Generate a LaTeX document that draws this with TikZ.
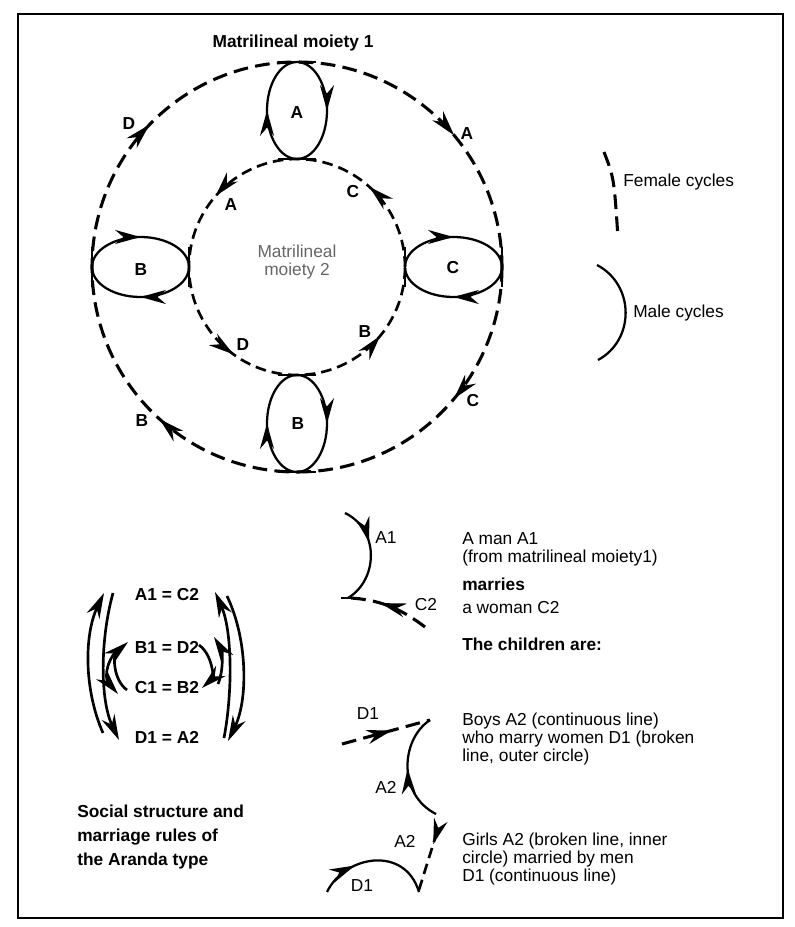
\documentclass[tikz,border=0pt]{standalone}
\usepackage{fontspec}
\setmainfont{Liberation Sans}
\usepackage{tikz}
\usetikzlibrary{arrows.meta, decorations.markings, positioning}

\begin{document}
\begin{tikzpicture}[x=0.75pt, y=-0.75pt,
    font=\fontsize{13}{13.6}\selectfont, text=black,
    >={Stealth[length=19pt, width=10.5pt]},
    outerdash/.style={line width=2.3pt, dash pattern=on 11pt off 5.5pt},
    innerdash/.style={line width=2pt, dash pattern=on 8pt off 4.5pt},
    malecycle/.style={line width=1.7pt},
    arrowat/.style={postaction={decorate, decoration={markings,
        mark=at position #1 with {\arrow{>}}}}},
    letter/.style={font=\fontsize{13}{13.6}\selectfont\bfseries, inner sep=1pt},
    note/.style={anchor=west, align=left, inner sep=0pt}]
    \useasboundingbox (0,0) rectangle (794,927);
    \draw[line width=1.5pt] (18,14) rectangle (783,918);

    % the two moieties
    \coordinate (cen) at (297,267);
    \draw[outerdash, arrowat=0.111, arrowat=0.367, arrowat=0.622, arrowat=0.889]
        (cen) ++(205,0) arc[start angle=0, end angle=360, radius=205];
    \draw[innerdash, arrowat=0.133, arrowat=0.386, arrowat=0.65, arrowat=0.89]
        (cen) ++(108,0) arc[start angle=360, end angle=0, radius=108];
    \node (moietyone) at (293,43) {\bfseries Matrilineal moiety 1};
    \node[align=center, text=black!60] (moietytwo) at (297,262) {Matrilineal\\moiety 2};

    % male cycles between the circles
    \coordinate (ltop) at (297,110.5);
    \coordinate (lbot) at (297,423.5);
    \coordinate (lleft) at (140.5,267);
    \coordinate (lright) at (453.5,267);
    \foreach \c in {ltop, lbot} {
        \draw[malecycle, arrowat=0.25, arrowat=0.75] (\c) ++(0,-48.5)
            arc[start angle=270, end angle=630, x radius=30, y radius=48.5];
        \draw[malecycle] (\c) ++(-19,-48.5) -- ++(38,0) (\c) ++(-19,48.5) -- ++(38,0);
    }
    \foreach \c in {lleft, lright} {
        \draw[malecycle, arrowat=0.25, arrowat=0.75] (\c) ++(-48.5,0)
            arc[start angle=180, end angle=540, x radius=48.5, y radius=30];
        \draw[malecycle] (\c) ++(-48.5,-20) -- ++(0,40) (\c) ++(48.5,-20) -- ++(0,40);
    }
    \node[letter] at (297,113) {A};
    \node[letter] at (141,270) {B};
    \node[letter] at (453,268) {C};
    \node[letter] at (298,424) {B};

    % letters on the circles
    \node[letter] (oD) at (129,124) {D};
    \node[letter] (oA) at (467,134) {A};
    \node[letter] (oC) at (473,401) {C};
    \node[letter] (oB) at (142,421) {B};
    \node[letter] (iA) at (231,205) {A};
    \node[letter] (iC) at (353,192) {C};
    \node[letter] (iB) at (365,332) {B};
    \node[letter] (iD) at (243,345) {D};

    % legend
    \draw[outerdash] (604,152) .. controls (614,178) .. (618,238);
    \node[note] (female) at (623,182) {Female cycles};
    \draw[malecycle] (597,265) .. controls (635,285) and (635,340) .. (598,360);
    \node[note] (male) at (633,313) {Male cycles};

    % marriage rules
    \node[letter] (rowA) at (167,595) {A1 = C2};
    \node[letter] (rowB) at (167,647) {B1 = D2};
    \node[letter] (rowC) at (167,688) {C1 = B2};
    \node[letter] (rowD) at (167,737) {D1 = A2};
    \begin{scope}[line width=2pt, ->]
        \draw (103,733) .. controls (84,690) and (84,635) .. (104,593);
        \draw (113,593) .. controls (100,640) and (100,700) .. (119,740);
        \draw (117,650) .. controls (104,665) and (106,680) .. (118,694);
        \draw (127,690) .. controls (113,680) and (113,655) .. (128,642);
        \draw (199,645) .. controls (213,655) and (213,678) .. (202,688);
        \draw (218,684) .. controls (224,670) and (222,650) .. (214,637);
        \draw (224,738) .. controls (233,690) and (232,630) .. (215,592);
        \draw (227,596) .. controls (248,640) and (248,700) .. (228,741);
    \end{scope}
    \node[note, font=\fontsize{13}{18}\selectfont\bfseries] (caption) at (77,837)
        {Social structure and\\marriage rules of\\the Aranda type};

    % A1 marries C2
    \draw[malecycle, arrowat=0.38] (345,513) .. controls (380,530) and (378,580) .. (348,598);
    \draw[malecycle] (341,598) -- (360,598);
    \draw[outerdash, arrowat=0.62] (425,627) .. controls (405,612) and (385,600) .. (350,598);
    \node (mA1) at (386,538) {A1};
    \node (mC2) at (426,605) {C2};
    \node[note] (man) at (462,549) {A man A1\\(from matrilineal moiety1)};
    \node[note, font=\fontsize{13}{13.6}\selectfont\bfseries] (marries) at (462,584) {marries};
    \node[note] (woman) at (462,608) {a woman C2};
    \node[note, font=\fontsize{13}{13.6}\selectfont\bfseries] (children) at (462,644) {The children are:};

    % boys
    \draw[outerdash, arrowat=0.57] (342,744) -- (430,720);
    \draw[malecycle, arrowat=0.5] (436,814) .. controls (398,795) and (400,740) .. (430,720);
    \node (bD1) at (368,714) {D1};
    \node (bA2) at (386,787) {A2};
    \node[note] (boys) at (462,739)
        {Boys A2 (continuous line)\\who marry women D1 (broken\\line, outer circle)};

    % girls
    \draw[innerdash, arrowat=0.2] (437,832) -- (418,893);
    \draw[malecycle, arrowat=0.33] (327,892) .. controls (345,855) and (405,845) .. (419,892);
    \node (gA2) at (405,841) {A2};
    \node (gD1) at (362,886) {D1};
    \node[note] (girls) at (462,859)
        {Girls A2 (broken line, inner\\circle) married by men\\D1 (continuous line)};
\end{tikzpicture}
\end{document}
